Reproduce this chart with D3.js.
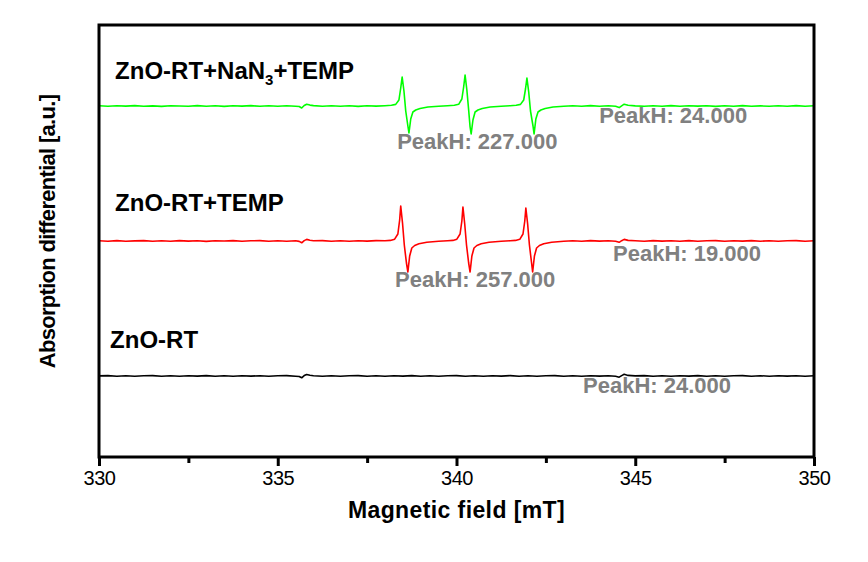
<!DOCTYPE html>
<html>
<head>
<meta charset="utf-8">
<script src="https://cdn.jsdelivr.net/npm/d3@7"></script>
<style>
  html, body { margin: 0; padding: 0; background: #fff; }
  svg { display: block; }
  text { font-family: "Liberation Sans", Arial, sans-serif; }
</style>
</head>
<body>
<svg id="chart" width="868" height="562"></svg>
<script>
// ---------------- DATA ----------------
const fieldDomain = [330, 350];          // mT
const majorTicks = [330, 335, 340, 345, 350];
const minorTicks = [332.5, 337.5, 342.5, 347.5];
const yDomain = [0, 432];                // arbitrary units

const seriesNames = ["ZnO-RT+NaN3+TEMP", "ZnO-RT+TEMP", "ZnO-RT"];
const seriesColors = ["#00ff00", "#ff0000", "#000000"];
const seriesOffsets = [351, 216, 81];    // vertical stacking offsets (a.u.)

// [field (mT), signal (a.u.)]
const greenSignal = [
[330.00,0.2],[330.25,-0.3],[330.50,0.3],[330.75,-0.1],[331.00,0.4],[331.25,-0.3],[331.50,0.1],[331.75,-0.4],
[332.00,0.3],[332.25,0.0],[332.50,-0.3],[332.75,0.4],[333.00,-0.2],[333.25,0.3],[333.50,-0.4],[333.75,0.2],
[334.00,-0.1],[334.25,0.4],[334.50,-0.3],[334.75,0.2],[335.00,-0.2],[335.25,0.3],[335.50,-0.2],[335.60,-0.5],
[335.67,-2.0],[335.74,0.5],[335.81,1.8],[335.90,0.9],[336.00,0.4],[336.25,-0.2],[336.50,0.3],[336.75,-0.3],
[337.00,0.2],[337.25,-0.4],[337.50,0.3],[337.75,-0.1],[338.00,0.3],[338.18,0.7],[338.30,1.6],[338.39,6],
[338.44,18],[338.48,29],[338.53,15],[338.58,-5],[338.64,-20],[338.67,-27],[338.72,-13],[338.78,-6],
[338.86,-4],[338.98,-2.5],[339.20,-1.0],[339.50,-0.2],[339.75,0.3],[339.94,0.7],[340.06,1.7],[340.15,7],
[340.20,19],[340.24,31],[340.29,16],[340.34,-4],[340.38,-21],[340.41,-28],[340.46,-14],[340.52,-6],
[340.60,-4],[340.72,-2.5],[340.94,-1.0],[341.25,-0.2],[341.50,0.3],[341.67,0.7],[341.79,1.6],[341.88,6],
[341.93,17],[341.97,28],[342.02,14],[342.07,-5],[342.14,-20],[342.17,-28],[342.22,-13],[342.28,-6],
[342.36,-4],[342.48,-2.5],[342.70,-1.0],[343.00,-0.3],[343.25,0.3],[343.50,-0.2],[343.75,0.4],[344.00,-0.3],
[344.25,0.2],[344.45,-0.3],[344.55,-1.6],[344.62,0.2],[344.69,1.8],[344.80,0.7],[345.00,0.1],[345.25,-0.3],
[345.50,0.3],[345.75,-0.2],[346.00,0.4],[346.25,-0.3],[346.50,0.2],[346.75,-0.1],[347.00,0.3],[347.25,-0.4],
[347.50,0.2],[347.75,-0.2],[348.00,0.4],[348.25,-0.3],[348.50,0.1],[348.75,-0.3],[349.00,0.3],[349.25,-0.2],
[349.50,0.4],[349.75,-0.3],[350.00,0.2]
];

const redSignal = [
[330.00,0.3],[330.25,-0.2],[330.50,0.4],[330.75,-0.3],[331.00,0.1],[331.25,0.4],[331.50,-0.3],[331.75,0.2],
[332.00,-0.2],[332.25,0.4],[332.50,-0.1],[332.75,0.3],[333.00,-0.4],[333.25,0.2],[333.50,0.0],[333.75,0.4],
[334.00,-0.3],[334.25,0.2],[334.50,0.4],[334.75,-0.2],[335.00,0.3],[335.25,-0.3],[335.50,0.2],[335.60,-0.4],
[335.67,-1.8],[335.74,0.4],[335.81,1.6],[335.90,0.8],[336.00,0.2],[336.25,0.4],[336.50,-0.2],[336.75,0.3],
[337.00,-0.3],[337.25,0.2],[337.50,-0.1],[337.75,0.4],[338.00,0.2],[338.15,0.6],[338.27,1.8],[338.36,7],
[338.41,21],[338.44,35],[338.49,18],[338.54,-4],[338.60,-22],[338.64,-31],[338.69,-15],[338.75,-7],
[338.83,-4.5],[338.95,-2.8],[339.17,-1.2],[339.50,-0.3],[339.75,0.3],[339.90,0.6],[340.01,1.8],[340.10,7],
[340.15,20],[340.18,34],[340.23,17],[340.28,-4],[340.34,-22],[340.38,-31],[340.43,-15],[340.49,-7],
[340.57,-4.5],[340.69,-2.8],[340.91,-1.2],[341.25,-0.3],[341.50,0.3],[341.65,0.6],[341.77,1.7],[341.86,7],
[341.91,20],[341.94,33],[341.99,17],[342.04,-4],[342.10,-22],[342.13,-31],[342.18,-15],[342.24,-7],
[342.32,-4.5],[342.44,-2.8],[342.66,-1.2],[343.00,-0.3],[343.25,0.3],[343.50,-0.2],[343.75,0.4],[344.00,-0.1],
[344.25,0.3],[344.45,-0.2],[344.55,-1.3],[344.62,0.3],[344.69,1.6],[344.80,0.6],[345.00,0.2],[345.25,-0.3],
[345.50,0.4],[345.75,-0.1],[346.00,0.3],[346.25,-0.3],[346.50,0.4],[346.75,-0.2],[347.00,0.2],[347.25,0.4],
[347.50,-0.3],[347.75,0.3],[348.00,-0.1],[348.25,0.4],[348.50,-0.2],[348.75,0.3],[349.00,-0.3],[349.25,0.2],
[349.50,0.4],[349.75,-0.2],[350.00,0.3]
];

const blackSignal = [
[330.00,0.1],[330.25,0.4],[330.50,-0.2],[330.75,0.3],[331.00,-0.3],[331.25,0.2],[331.50,0.4],[331.75,-0.2],
[332.00,0.3],[332.25,-0.3],[332.50,0.2],[332.75,-0.1],[333.00,0.4],[333.25,-0.2],[333.50,0.3],[333.75,-0.3],
[334.00,0.2],[334.25,-0.1],[334.50,0.3],[334.75,-0.3],[335.00,0.2],[335.25,0.4],[335.50,-0.2],[335.60,-0.5],
[335.67,-1.8],[335.74,0.4],[335.81,1.5],[335.90,0.8],[336.00,0.2],[336.25,-0.2],[336.50,0.3],[336.75,-0.3],
[337.00,0.2],[337.25,0.4],[337.50,-0.2],[337.75,0.3],[338.00,-0.3],[338.25,0.2],[338.50,-0.1],[338.75,0.4],
[339.00,-0.2],[339.25,0.3],[339.50,-0.3],[339.75,0.2],[340.00,0.4],[340.25,-0.2],[340.50,0.3],[340.75,-0.3],
[341.00,0.2],[341.25,-0.1],[341.50,0.4],[341.75,-0.2],[342.00,0.3],[342.25,-0.3],[342.50,0.2],[342.75,0.4],
[343.00,-0.2],[343.25,0.3],[343.50,-0.3],[343.75,0.2],[344.00,-0.1],[344.25,0.3],[344.45,-0.3],[344.55,-1.2],
[344.62,0.4],[344.69,1.7],[344.80,0.6],[345.00,0.1],[345.25,0.4],[345.50,-0.2],[345.75,0.3],[346.00,-0.3],
[346.25,0.2],[346.50,-0.1],[346.75,0.4],[347.00,-0.2],[347.25,0.3],[347.50,-0.3],[347.75,0.2],[348.00,0.4],
[348.25,-0.2],[348.50,0.3],[348.75,-0.3],[349.00,0.2],[349.25,-0.1],[349.50,0.3],[349.75,-0.2],[350.00,0.2]
];

const allSignals = [greenSignal, redSignal, blackSignal];

// Annotation labels: [field, value, text]
const peakLabels = [
  [338.34, 308, "PeakH: 227.000"],
  [343.99, 334, "PeakH: 24.000"],
  [338.28, 170, "PeakH: 257.000"],
  [344.38, 196, "PeakH: 19.000"],
  [343.54, 64,  "PeakH: 24.000"]
];
const nameLabelPos = [[330.45, 378], [330.45, 246], [330.31, 109]];

const xTitle = "Magnetic field [mT]";
const yTitle = "Absorption differential [a.u.]";

// ---------------- CHART ----------------
const svg = d3.select("#chart");
const plot = { left: 99, right: 814, top: 25, bottom: 457 };

const x = d3.scaleLinear().domain(fieldDomain).range([plot.left, plot.right]);
const y = d3.scaleLinear().domain(yDomain).range([plot.bottom, plot.top]);

const line = d3.line()
  .x(d => x(d[0]))
  .y(d => y(d[1]));

// traces
allSignals.forEach((sig, i) => {
  const pts = sig.map(d => [d[0], d[1] + seriesOffsets[i]]);
  svg.append("path")
    .datum(pts)
    .attr("fill", "none")
    .attr("stroke", seriesColors[i])
    .attr("stroke-width", 1.6)
    .attr("stroke-linejoin", "round")
    .attr("d", line);
});

// frame
svg.append("rect")
  .attr("x", plot.left).attr("y", plot.top)
  .attr("width", plot.right - plot.left)
  .attr("height", plot.bottom - plot.top)
  .attr("fill", "none").attr("stroke", "#000").attr("stroke-width", 3);

// x axis major ticks
const axisG = svg.append("g").attr("transform", `translate(0,${plot.bottom})`);
const majorAxis = d3.axisBottom(x).tickValues(majorTicks).tickSize(9).tickFormat(d3.format("d"));
const gMaj = axisG.append("g").call(majorAxis);
gMaj.select(".domain").remove();
gMaj.selectAll(".tick line").attr("stroke", "#000").attr("stroke-width", 3);
gMaj.selectAll(".tick text")
  .attr("y", 28).attr("dy", 0)
  .attr("fill", "#000")
  .style("font-family", "'Liberation Sans', Arial, sans-serif")
  .style("font-size", "20px")
  .style("letter-spacing", "-0.5px");

const minorAxis = d3.axisBottom(x).tickValues(minorTicks).tickSize(6).tickFormat("");
const gMin = axisG.append("g").call(minorAxis);
gMin.select(".domain").remove();
gMin.selectAll(".tick line").attr("stroke", "#000").attr("stroke-width", 3);

// axis titles
svg.append("text")
  .attr("x", (plot.left + plot.right) / 2)
  .attr("y", 518)
  .attr("text-anchor", "middle")
  .attr("font-weight", "bold")
  .attr("font-size", 23)
  .attr("letter-spacing", "0.4px")
  .text(xTitle);

svg.append("text")
  .attr("transform", `translate(55,${(96 + 367) / 2}) rotate(-90)`)
  .attr("text-anchor", "middle")
  .attr("font-weight", "bold")
  .attr("font-size", 22)
  .attr("letter-spacing", "-0.7px")
  .text(yTitle);

// series name labels
seriesNames.forEach((name, i) => {
  const t = svg.append("text")
    .attr("x", x(nameLabelPos[i][0]))
    .attr("y", y(nameLabelPos[i][1]))
    .attr("font-weight", "bold")
    .attr("font-size", 24)
    .attr("letter-spacing", "0px")
    .attr("fill", "#000");
  const m = name.match(/^(.*?NaN)(3)(.*)$/);
  if (m) {
    t.append("tspan").text(m[1]);
    t.append("tspan").attr("font-size", 15).attr("dy", 6).text(m[2]);
    t.append("tspan").attr("dy", -6).text(m[3]);
  } else {
    t.text(name);
  }
});

// PeakH labels
svg.selectAll(".peak-label")
  .data(peakLabels)
  .enter().append("text")
  .attr("class", "peak-label")
  .attr("x", d => x(d[0]))
  .attr("y", d => y(d[1]))
  .attr("font-weight", "bold")
  .attr("font-size", 22)
  .attr("fill", "#808080")
  .text(d => d[2]);
</script>
</body>
</html>
